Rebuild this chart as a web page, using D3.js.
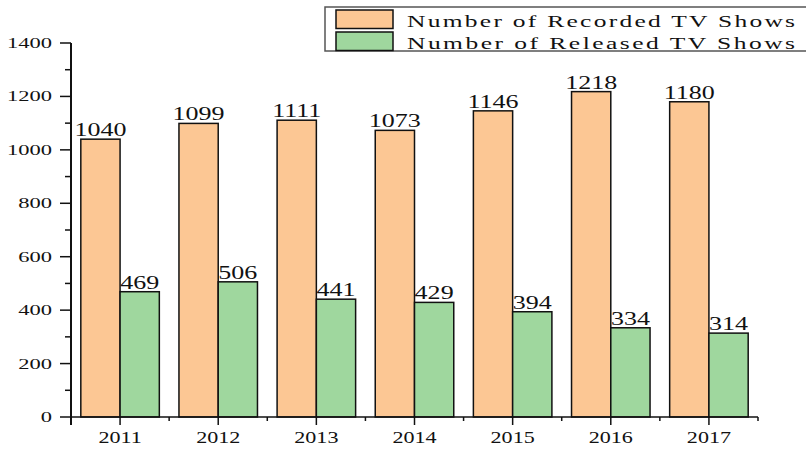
<!DOCTYPE html>
<html>
<head>
<meta charset="utf-8">
<script src="https://cdn.jsdelivr.net/npm/d3@7"></script>
<style>
  body { margin: 0; background: #fff; }
  svg { display: block; }
  text { font-family: "Liberation Serif", "DejaVu Serif", serif; fill: #111; }
</style>
</head>
<body>
<svg width="806" height="449"></svg>
<script>
var years = ["2011", "2012", "2013", "2014", "2015", "2016", "2017"];
var recorded = [1040, 1099, 1111, 1073, 1146, 1218, 1180];
var released = [469, 506, 441, 429, 394, 334, 314];
var seriesNames = ["Number of Recorded TV Shows", "Number of Released TV Shows"];
var colors = ["#fcc794", "#9fd79e"];
var yTicks = [0, 200, 400, 600, 800, 1000, 1200, 1400];

var svg = d3.select("svg");

var x = d3.scaleBand()
  .domain(years)
  .range([71, 758])
  .paddingInner(0.2)
  .paddingOuter(0.1);

var y = d3.scaleLinear()
  .domain([0, 1400])
  .range([417, 43]);

var sub = d3.scaleBand()
  .domain([0, 1])
  .range([0, x.bandwidth()]);

// stretched text helper (reference glyphs are wide)
function wideText(g, tx, ty, str, size, sx, anchor) {
  return g.append("text")
    .attr("transform", "translate(" + tx + "," + ty + ") scale(" + sx + ",1)")
    .attr("text-anchor", anchor)
    .attr("font-size", size)
    .text(str);
}

// bars
var groups = svg.append("g").selectAll("g")
  .data(years)
  .enter().append("g")
  .attr("transform", function(d) { return "translate(" + x(d) + ",0)"; });

groups.selectAll("rect")
  .data(function(d, i) { return [recorded[i], released[i]]; })
  .enter().append("rect")
  .attr("x", function(d, j) { return sub(j); })
  .attr("y", function(d) { return y(d); })
  .attr("width", sub.bandwidth())
  .attr("height", function(d) { return y(0) - y(d); })
  .attr("fill", function(d, j) { return colors[j]; })
  .attr("stroke", "#111")
  .attr("stroke-width", 1.5);

groups.each(function(d, i) {
  var g = d3.select(this);
  [recorded[i], released[i]].forEach(function(v, j) {
    wideText(g, sub(j) + sub.bandwidth() / 2, y(v) - 3, v, 19, 1.37, "middle");
  });
});

// y axis
var yAxis = svg.append("g");
yAxis.append("line")
  .attr("x1", 71).attr("x2", 71)
  .attr("y1", y(1400)).attr("y2", y(0) + 8)
  .attr("stroke", "#111").attr("stroke-width", 2);

yAxis.selectAll(".major")
  .data(yTicks)
  .enter().append("line")
  .attr("x1", 60).attr("x2", 71)
  .attr("y1", function(d) { return y(d); })
  .attr("y2", function(d) { return y(d); })
  .attr("stroke", "#111").attr("stroke-width", 1.5);

yAxis.selectAll(".minor")
  .data(yTicks.slice(0, -1).map(function(d) { return d + 100; }))
  .enter().append("line")
  .attr("x1", 65).attr("x2", 71)
  .attr("y1", function(d) { return y(d); })
  .attr("y2", function(d) { return y(d); })
  .attr("stroke", "#111").attr("stroke-width", 1.5);

yTicks.forEach(function(t) {
  wideText(yAxis, 52, y(t) + 5, t, 15, 1.5, "end");
});

// x axis
var xAxis = svg.append("g");
xAxis.append("line")
  .attr("x1", 71).attr("x2", 758)
  .attr("y1", y(0)).attr("y2", y(0))
  .attr("stroke", "#111").attr("stroke-width", 1.5);

xAxis.selectAll(".major")
  .data(years)
  .enter().append("line")
  .attr("x1", function(d) { return x(d) + x.bandwidth() / 2; })
  .attr("x2", function(d) { return x(d) + x.bandwidth() / 2; })
  .attr("y1", y(0)).attr("y2", y(0) + 8)
  .attr("stroke", "#111").attr("stroke-width", 1.5);

xAxis.selectAll(".minor")
  .data(years.slice(1).concat(["end"]))
  .enter().append("line")
  .attr("x1", function(d, i) { return x(years[0]) + x.bandwidth() / 2 + x.step() * (i + 0.5); })
  .attr("x2", function(d, i) { return x(years[0]) + x.bandwidth() / 2 + x.step() * (i + 0.5); })
  .attr("y1", y(0)).attr("y2", y(0) + 4)
  .attr("stroke", "#111").attr("stroke-width", 1.5);

years.forEach(function(d) {
  wideText(xAxis, x(d) + x.bandwidth() / 2, 443, d, 16, 1.38, "middle");
});

// legend
var legend = svg.append("g");
legend.append("path")
  .attr("d", "M806,7 H325 V51 H806")
  .attr("fill", "#fff")
  .attr("stroke", "#555")
  .attr("stroke-width", 1.5);

seriesNames.forEach(function(name, i) {
  legend.append("rect")
    .attr("x", 336).attr("y", 10 + i * 22)
    .attr("width", 57).attr("height", 18.5)
    .attr("fill", colors[i])
    .attr("stroke", "#111").attr("stroke-width", 1.5);
  legend.append("text")
    .attr("transform", "translate(407," + (27 + i * 21.5) + ") scale(1.5,1)")
    .attr("font-size", 17)
    .attr("textLength", 388 / 1.5)
    .attr("lengthAdjust", "spacing")
    .text(name);
});
</script>
</body>
</html>
